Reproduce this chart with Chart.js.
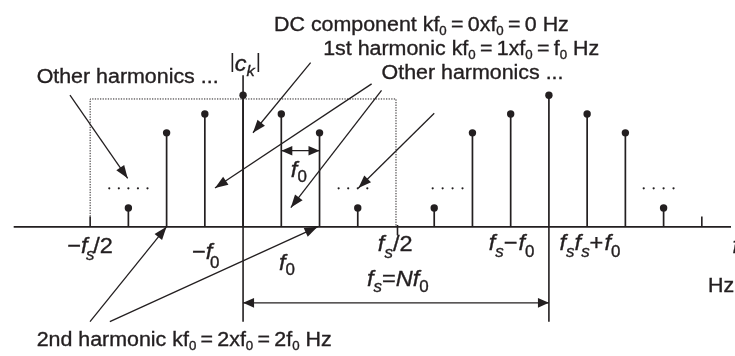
<!DOCTYPE html>
<html><head><meta charset="utf-8">
<script src="https://cdn.jsdelivr.net/npm/chart.js@4.4.0/dist/chart.umd.min.js"></script>
<style>html,body{margin:0;padding:0;background:#fff;}#wrap{width:735px;height:356px;position:relative;}</style>
</head><body><div id="wrap"><canvas id="c"></canvas></div>
<script>
// ---- data ----
const harmonicK = [-3, -2, -1, 0, 1, 2, 3, 5, 6, 7, 8, 9, 10, 11];
const magnitude = [1, 5, 6, 7, 6, 5, 1, 1, 5, 6, 7, 6, 5, 1];
const ellipsisK = [-3.5, -3.25, -3, -2.75, -2.5, 2.5, 2.75, 3.0, 3.25, 4.96, 5.22, 5.48, 5.74, 10.48, 10.74, 11.0, 11.26];
const ellipsisLevel = 2.05;
const foldingK = [-4, 4];          // ±fs/2
const boxTop = 6.8;
const samplingK = 8;               // fs = N f0, N = 8
const extraTickK = [12];

const INK = '#231f20';
const X_MIN = -6.2535, X_MAX = 12.763, Y_MIN = -6.653, Y_MAX = 11.85;

// arrows [fromK, fromV, tipK, tipV]
const arrows = [
  [-4.528, 7.00, -3.019, 2.583],
  [1.767, 8.732, 0.259, 5.005],
  [3.363, 7.604, -0.735, 2.063],
  [3.622, 7.261, 1.250, 1.024],
  [5.001, 6.045, 3.017, 2.063],
  [-4.003, -5.042, -2.003, 0],
  [-3.485, -5.042, 1.948, 0]
];
const doubleArrows = [[1, 4.05, 2, 4.05], [0, -4.04, 8, -4.04]];

const M = 20;   // main text size
const A = 22;   // axis label size
const textLabels = [
  {k: 0.810, v: 10.42, size: M, sub: 0.62, drop: 4, segs: [{t: 'DC component kf'}, {t: '0', s: 1}, {t: '\u2009=\u20090xf'}, {t: '0', s: 1}, {t: '\u2009=\u20090 Hz'}]},
  {k: 2.096, v: 9.132, size: M, sub: 0.62, drop: 4, segs: [{t: '1st harmonic kf'}, {t: '0', s: 1}, {t: '\u2009=\u20091xf'}, {t: '0', s: 1}, {t: '\u2009=\u2009f'}, {t: '0', s: 1}, {t: ' Hz'}]},
  {k: 3.622, v: 7.864, size: M, segs: [{t: 'Other harmonics ...'}]},
  {k: -5.40, v: 7.640, size: M, segs: [{t: 'Other harmonics ...'}]},
  {k: -5.40, v: -6.341, size: M, sub: 0.62, drop: 4, segs: [{t: '2nd harmonic kf'}, {t: '0', s: 1}, {t: '\u2009=\u20092xf'}, {t: '0', s: 1}, {t: '\u2009=\u20092f'}, {t: '0', s: 1}, {t: ' Hz'}]},
  {k: 12.160, v: -3.45, size: M, segs: [{t: 'Hz'}]},
  {k: -0.22, v: 8.30, size: A, sub: 0.7, drop: 5, segs: [{t: 'c', i: 1}, {t: 'k', i: 1, s: 1}]},
  {k: -4.60, v: -1.403, size: A, sub: 0.72, drop: 6.5, segs: [{t: '\u2212'}, {t: 'f', i: 1}, {t: 's', i: 1, s: 1, dx: -1.5}, {t: '/2', dx: -1}]},
  {k: -1.338, v: -1.715, size: A, sub: 0.72, drop: 9, segs: [{t: '\u2212'}, {t: 'f', i: 1}, {t: '0', s: 1, dx: -2}]},
  {k: 0.939, v: -2.271, size: A, sub: 0.72, drop: 5, segs: [{t: 'f', i: 1}, {t: '0', s: 1}]},
  {k: 1.250, v: 2.651, size: A, sub: 0.72, drop: 5, segs: [{t: 'f', i: 1}, {t: '0', s: 1}]},
  {k: 3.526, v: -1.263, size: A, sub: 0.72, drop: 7, segs: [{t: 'f', i: 1}, {t: 's', i: 1, s: 1}, {t: '/2'}]},
  {k: 6.424, v: -1.247, size: A, sub: 0.72, drop: 7, segs: [{t: 'f', i: 1}, {t: 's', i: 1, s: 1}, {t: '\u2212'}, {t: 'f', i: 1, dx: 1}, {t: '0', s: 1}]},
  {k: 8.279, v: -1.247, size: A, sub: 0.72, drop: 7, segs: [{t: 'f', i: 1}, {t: 's', i: 1, s: 1}, {t: 'f', i: 1}, {t: 's', i: 1, s: 1}, {t: '+'}, {t: 'f', i: 1, dx: 1}, {t: '0', s: 1}]},
  {k: 3.242, v: -3.170, size: A, sub: 0.72, drop: 6, segs: [{t: 'f', i: 1}, {t: 's', i: 1, s: 1}, {t: '='}, {t: 'N', i: 1}, {t: 'f', i: 1}, {t: '0', s: 1}]},
  {k: 12.80, v: -1.40, size: A, segs: [{t: 'f', i: 1}]}
];
const SX = 1.07;

function drawRich(ctx, px, py, lab) {
  const size = lab.size;
  ctx.save();
  ctx.translate(px, py);
  ctx.scale(SX, 1);
  ctx.fillStyle = INK;
  ctx.strokeStyle = INK;
  ctx.lineWidth = 0.35;
  ctx.textBaseline = 'alphabetic';
  let cx = 0;
  for (const sg of lab.segs) {
    const fs = sg.s ? size * (lab.sub || 0.65) : size;
    ctx.font = (sg.i ? 'italic ' : '') + fs + 'px "Liberation Sans", Arial, sans-serif';
    cx += (sg.dx || 0);
    const yy = sg.s ? (lab.drop || 5) : 0;
    ctx.fillText(sg.t, cx, yy);
    ctx.strokeText(sg.t, cx, yy);
    cx += ctx.measureText(sg.t).width;
  }
  ctx.restore();
}

function head(ctx, x0, y0, x1, y1, len, hw) {
  const a = Math.atan2(y1 - y0, x1 - x0);
  const c = Math.cos(a), s = Math.sin(a);
  ctx.beginPath();
  ctx.moveTo(x1, y1);
  ctx.lineTo(x1 - len * c + hw * s, y1 - len * s - hw * c);
  ctx.lineTo(x1 - len * c - hw * s, y1 - len * s + hw * c);
  ctx.closePath();
  ctx.fill();
}

const diagramPlugin = {
  id: 'diagram',
  beforeDatasetsDraw(chart) {
    const {ctx, scales: {x, y}} = chart;
    const X = v => x.getPixelForValue(v), Y = v => y.getPixelForValue(v);
    ctx.save();
    ctx.strokeStyle = INK;
    // dotted box between ±fs/2
    ctx.lineWidth = 1;
    ctx.setLineDash([1.3, 1.3]);
    ctx.beginPath();
    ctx.moveTo(X(foldingK[0]), Y(0.55));
    ctx.lineTo(X(foldingK[0]), Y(boxTop));
    ctx.lineTo(X(foldingK[1]), Y(boxTop));
    ctx.lineTo(X(foldingK[1]), Y(0));
    ctx.stroke();
    ctx.setLineDash([]);
    // frequency axis
    ctx.lineWidth = 1.6;
    ctx.beginPath();
    ctx.moveTo(X(-6), Y(0));
    ctx.lineTo(X(X_MAX), Y(0));
    // |c_k| axis
    ctx.moveTo(X(0), Y(-5.04));
    ctx.lineTo(X(0), Y(8.06));
    // fs marker line
    ctx.moveTo(X(samplingK), Y(-5.04));
    ctx.lineTo(X(samplingK), Y(0));
    // ticks
    ctx.moveTo(X(foldingK[0]), Y(0));
    ctx.lineTo(X(foldingK[0]), Y(0.55));
    ctx.moveTo(X(foldingK[1]) + 1.5, Y(0.1));
    ctx.lineTo(X(foldingK[1]) + 1.5, Y(-0.45));
    for (const t of extraTickK) {
      ctx.moveTo(X(t), Y(0));
      ctx.lineTo(X(t), Y(0.55));
    }
    // |c_k| bars
    ctx.moveTo(X(-0.28), 53); ctx.lineTo(X(-0.28), 72);
    ctx.moveTo(X(0.40), 53); ctx.lineTo(X(0.40), 72);
    ctx.stroke();
    ctx.restore();
  },
  afterDatasetsDraw(chart) {
    const {ctx, scales: {x, y}} = chart;
    const X = v => x.getPixelForValue(v), Y = v => y.getPixelForValue(v);
    ctx.save();
    ctx.strokeStyle = INK;
    ctx.fillStyle = INK;
    ctx.lineWidth = 1.3;
    for (const [k0, v0, k1, v1] of arrows) {
      const x0 = X(k0), y0 = Y(v0), x1 = X(k1), y1 = Y(v1);
      ctx.beginPath(); ctx.moveTo(x0, y0); ctx.lineTo(x1, y1); ctx.stroke();
      head(ctx, x0, y0, x1, y1, 13, 4.8);
    }
    for (const [k0, v0, k1, v1] of doubleArrows) {
      const x0 = X(k0), y0 = Y(v0), x1 = X(k1), y1 = Y(v1);
      ctx.beginPath(); ctx.moveTo(x0, y0); ctx.lineTo(x1, y1); ctx.stroke();
      head(ctx, x0, y0, x1, y1, 11, 4.8);
      head(ctx, x1, y1, x0, y0, 11, 4.8);
    }
    for (const lab of textLabels) drawRich(ctx, X(lab.k), Y(lab.v), lab);
    ctx.restore();
  }
};

const stemPoints = harmonicK.flatMap((k, i) => [{x: k, y: 0}, {x: k, y: magnitude[i]}, {x: k, y: null}]);
const headPoints = harmonicK.map((k, i) => ({x: k, y: magnitude[i]}));
const ellipsisPoints = ellipsisK.map(k => ({x: k, y: ellipsisLevel}));

new Chart(document.getElementById('c'), {
  type: 'scatter',
  data: {
    datasets: [
      {label: 'stems', data: stemPoints, showLine: true, spanGaps: false, borderColor: INK, borderWidth: 1.7, pointRadius: 0, pointHoverRadius: 0},
      {label: '|c_k|', data: headPoints, pointRadius: 3.7, pointBackgroundColor: INK, pointBorderColor: INK, pointBorderWidth: 0, showLine: false},
      {label: 'ellipsis', data: ellipsisPoints, pointRadius: 1.1, pointBackgroundColor: INK, pointBorderWidth: 0, showLine: false}
    ]
  },
  options: {
    responsive: true,
    maintainAspectRatio: false,
    animation: false,
    events: [],
    layout: {padding: 0},
    plugins: {legend: {display: false}, tooltip: {enabled: false}},
    scales: {
      x: {type: 'linear', min: X_MIN, max: X_MAX, display: false},
      y: {type: 'linear', min: Y_MIN, max: Y_MAX, display: false}
    }
  },
  plugins: [diagramPlugin]
});
</script></body></html>
